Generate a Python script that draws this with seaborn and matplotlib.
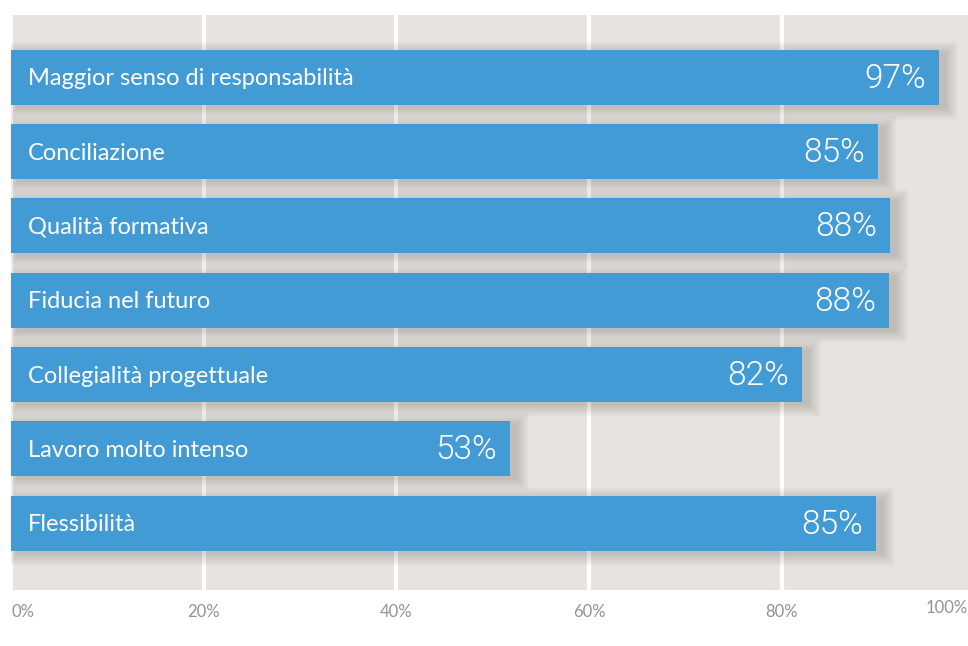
import matplotlib
matplotlib.use('Agg')
import numpy as np
import matplotlib.pyplot as plt
import seaborn as sns

# dati
categorie = ['Maggior senso di responsabilità', 'Conciliazione', 'Qualità formativa',
             'Fiducia nel futuro', 'Collegialità progettuale', 'Lavoro molto intenso',
             'Flessibilità']
# lunghezza delle barre (come disegnate nel grafico)
lunghezze = [96.3, 90.0, 91.2, 91.1, 82.1, 51.8, 89.8]
# valori scritti sulle barre
etichette = ['97%', '85%', '88%', '88%', '82%', '53%', '85%']
tick_valori = [0, 20, 40, 60, 80]
tick_testi = ['0%', '20%', '40%', '60%', '80%']

blu = '#429bd4'
sfondo = '#e7e4e0'

sns.set_style('white')
plt.rcParams['font.family'] = ['Lato', 'DejaVu Sans']

fig = plt.figure(figsize=(9.68, 6.46), dpi=100)
ax = fig.add_axes([11 / 968, 56 / 646, 957 / 968, 575 / 646])
ax.set_facecolor(sfondo)

xmax = 99.3
ymin, ymax = -0.84, 6.9
ax.set_xlim(0, xmax)
ax.set_ylim(ymax, ymin)

# px -> unità dati
px_x = xmax / 957
px_y = (ymax - ymin) / 575

# ombra sfumata sotto le barre
pos = np.arange(len(categorie))
lung = np.array(lunghezze)
for k in range(13):
    e = k * 1.0
    ax.barh(pos + 3 * px_y, lung + 2 * e * px_x, left=(7 - e) * px_x,
            height=0.74 + 2 * e * px_y, color='#3a3530', alpha=0.017,
            linewidth=0, zorder=2)

sns.barplot(x=lunghezze, y=categorie, color=blu, saturation=1, width=0.74,
            ax=ax, zorder=3, linewidth=0)
ax.set_xlim(0, xmax)
ax.set_ylim(ymax, ymin)

for i, (cat, lab, w) in enumerate(zip(categorie, etichette, lunghezze)):
    ax.text(17 * px_x, i + 0.02, cat, color='white', fontsize=17, va='center',
            ha='left', zorder=4)
    ax.text(w - 13 * px_x, i + 0.02, lab, color='white', fontsize=24,
            family='Roboto', fontweight=300, va='center', ha='right', zorder=4)

ax.set_xticks(tick_valori)
ax.set_xticklabels(tick_testi, color='#939393', fontsize=12)
ax.get_xticklabels()[0].set_horizontalalignment('left')
ax.text(1.0, -18 / 575, '100%', transform=ax.transAxes, color='#939393',
        fontsize=12, ha='right', va='center')
ax.tick_params(axis='x', length=0, pad=10)
ax.set_yticks([])
ax.set_ylabel('')
ax.set_xlabel('')
ax.grid(axis='x', color='white', linewidth=3)
ax.set_axisbelow(True)
for s in ax.spines.values():
    s.set_visible(False)

fig.savefig('out.png', dpi=100, facecolor='white')
